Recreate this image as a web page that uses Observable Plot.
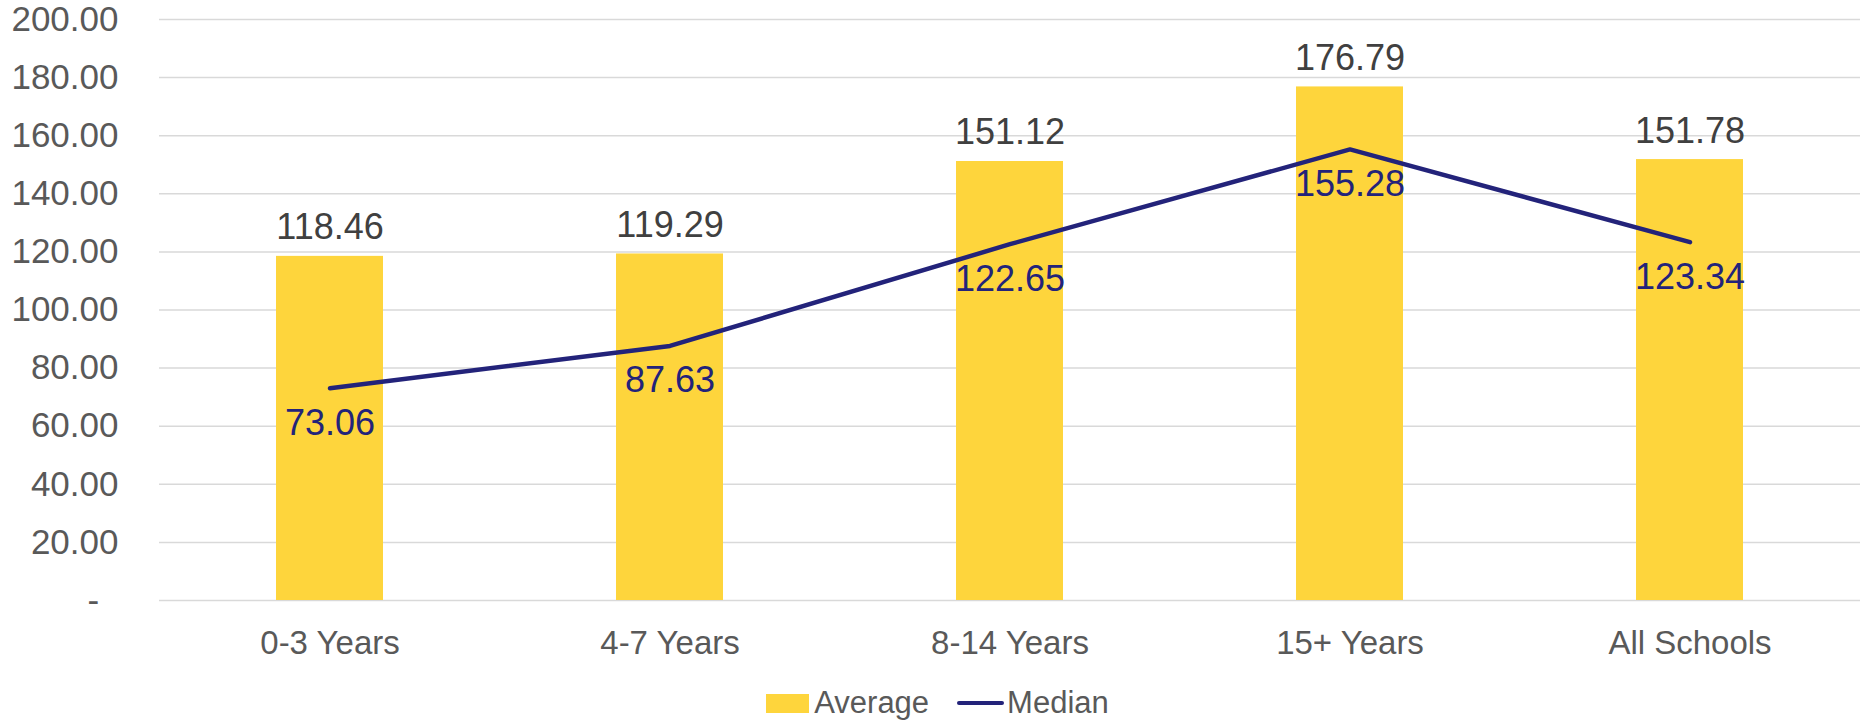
<!DOCTYPE html>
<html><head><meta charset="utf-8">
<script src="https://cdn.jsdelivr.net/npm/d3@7"></script>
<script src="https://cdn.jsdelivr.net/npm/@observablehq/plot@0.6"></script>
<style>
html,body{margin:0;padding:0;background:#fff;}
body{width:1860px;height:722px;overflow:hidden;font-family:"Liberation Sans",Arial,sans-serif;}
#legend{display:flex;justify-content:center;align-items:center;height:62px;font-size:31px;color:#595959;padding-left:15px;}
.sw-box{width:43px;height:19px;background:#FED53C;margin-right:5px;}
.sw-line{width:47px;height:4px;border-radius:2px;background:#23237A;margin-right:3px;margin-left:28px;}
</style></head><body>
<div id="chart"></div>
<div id="legend"></div>
<script>
const categories = ["0-3 Years", "4-7 Years", "8-14 Years", "15+ Years", "All Schools"];
const averageValues = [118.46, 119.29, 151.12, 176.79, 151.78];
const medianValues = [73.06, 87.63, 122.65, 155.28, 123.34];
const yTicks = [0, 20, 40, 60, 80, 100, 120, 140, 160, 180, 200];
const seriesNames = ["Average", "Median"];

const data = categories.map((c, i) => ({category: c, average: averageValues[i], median: medianValues[i]}));
const fmt = d => d === 0 ? "-\u2007" : d.toFixed(2);

const chart = Plot.plot({
  width: 1860, height: 672,
  marginLeft: 159, marginRight: 0, marginTop: 19, marginBottom: 72,
  style: {fontFamily: '"Liberation Sans", Arial, sans-serif', fontSize: "34px", background: "#fff", color: "#595959", overflow: "visible"},
  x: {domain: categories, paddingInner: 0.686, paddingOuter: 0.343, label: null},
  y: {domain: [0, 200], label: null},
  marks: [
    Plot.gridY(yTicks, {stroke: "#d9d9d9", strokeOpacity: 1, strokeWidth: 1.5}),
    Plot.axisY(yTicks, {tickSize: 0, tickPadding: 41, tickFormat: fmt, fill: "#595959", label: null, fontSize: 35}),
    Plot.axisX({tickSize: 0, tickPadding: 30, fill: "#595959", label: null, fontSize: 33}),
    Plot.barY(data, {x: "category", y: "average", fill: "#FED53C"}),
    Plot.line(data, {x: "category", y: "median", stroke: "#23237A", strokeWidth: 4.5, strokeLinecap: "round", strokeLinejoin: "round"}),
    Plot.text(data, {x: "category", y: "average", text: d => d.average.toFixed(2), lineAnchor: "bottom", dy: -17, fill: "#404040", fontSize: 36}),
    Plot.text(data, {x: "category", y: "median", text: d => d.median.toFixed(2), lineAnchor: "top", dy: 21, fill: "#23237A", fontSize: 36})
  ]
});
document.getElementById("chart").appendChild(chart);

const legend = document.getElementById("legend");
legend.innerHTML = `<div class="sw-box"></div><span>${seriesNames[0]}</span><div class="sw-line"></div><span>${seriesNames[1]}</span>`;
</script>
</body></html>
